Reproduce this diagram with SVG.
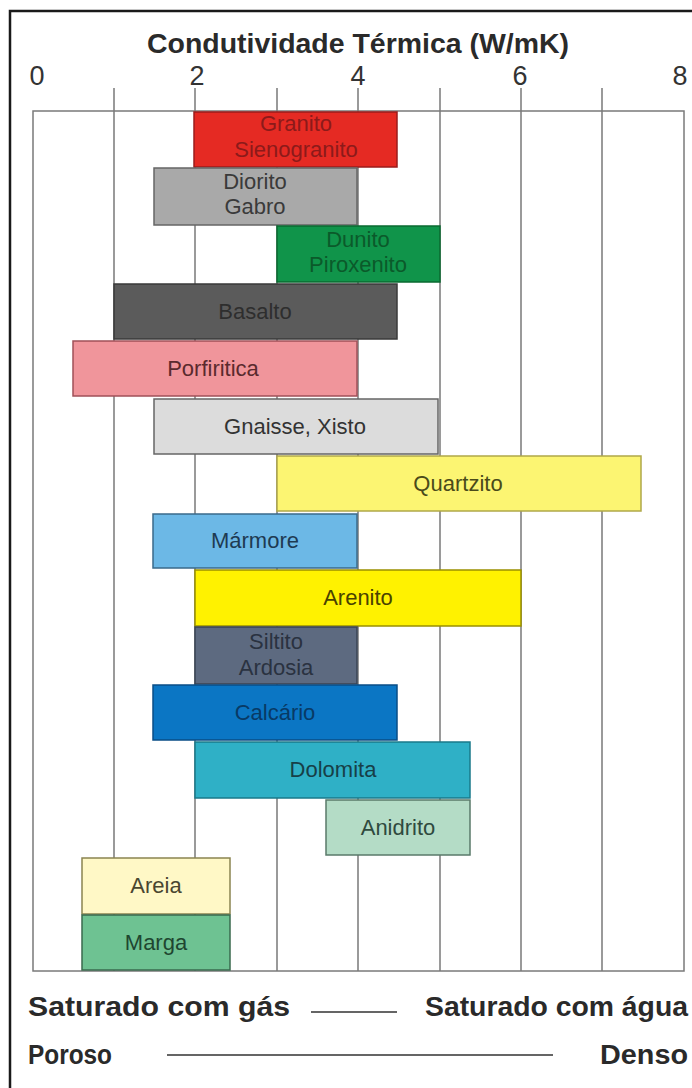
<svg xmlns="http://www.w3.org/2000/svg" width="692" height="1088" viewBox="0 0 692 1088">
<style>
.bar{stroke-width:1.5}
.lbl{font-family:"Liberation Sans",Arial,sans-serif;font-size:22px;text-anchor:middle}
.num{font-family:"Liberation Sans",Arial,sans-serif;font-size:27px;fill:#333;text-anchor:middle}
.bold{font-family:"Liberation Sans",Arial,sans-serif;font-weight:bold;font-size:27px;fill:#2a2a2a}
.grid{stroke:#7a7a7a;stroke-width:1.5;fill:none}
</style>
<rect width="692" height="1088" fill="#fff"/>
<path d="M10,1088 V11 H692" fill="none" stroke="#1a1a1a" stroke-width="2.5"/>
<text class="bold" x="358" y="53" text-anchor="middle" textLength="422" lengthAdjust="spacingAndGlyphs">Condutividade Térmica (W/mK)</text>
<g id="axis">
<text class="num" x="37" y="85">0</text>
<text class="num" x="197" y="85">2</text>
<text class="num" x="358" y="85">4</text>
<text class="num" x="520" y="85">6</text>
<text class="num" x="680" y="85">8</text>
</g>
<g id="grid" class="grid">
<rect x="33" y="111" width="651" height="860"/>
<path d="M114,88V971M195,88V971M277,88V971M358,88V971M440,88V971M521,88V971M602,88V971"/>
</g>
<g id="granito"><rect class="bar" x="194" y="112" width="203" height="55" fill="#e52a23" stroke="#9a1c1c"/><text class="lbl" x="296" y="131" fill="#8c1a1a">Granito</text><text class="lbl" x="296" y="157" fill="#8c1a1a">Sienogranito</text></g>
<g id="diorito"><rect class="bar" x="154" y="168" width="203" height="57" fill="#a9a9a9" stroke="#666"/><text class="lbl" x="255" y="189" fill="#3a3a3a">Diorito</text><text class="lbl" x="255" y="214" fill="#3a3a3a">Gabro</text></g>
<g id="dunito"><rect class="bar" x="277" y="226" width="163" height="56" fill="#10944a" stroke="#0a6a30"/><text class="lbl" x="358" y="247" fill="#0b5a2a">Dunito</text><text class="lbl" x="358" y="272" fill="#0b5a2a">Piroxenito</text></g>
<g id="basalto"><rect class="bar" x="114" y="284" width="283" height="55" fill="#5b5b5b" stroke="#3a3a3a"/><text class="lbl" x="255" y="319" fill="#2e2e2e">Basalto</text></g>
<g id="porfiritica"><rect class="bar" x="73" y="341" width="284" height="55" fill="#f0959b" stroke="#a05058"/><text class="lbl" x="213" y="376" fill="#5a2a2e">Porfiritica</text></g>
<g id="gnaisse"><rect class="bar" x="154" y="399" width="284" height="55" fill="#dcdcdc" stroke="#666"/><text class="lbl" x="295" y="434" fill="#333">Gnaisse, Xisto</text></g>
<g id="quartzito"><rect class="bar" x="277" y="456" width="364" height="55" fill="#fcf572" stroke="#b0a84a"/><text class="lbl" x="458" y="491" fill="#4a4a1a">Quartzito</text></g>
<g id="marmore"><rect class="bar" x="153" y="514" width="204" height="54" fill="#6cb8e6" stroke="#3a6a8a"/><text class="lbl" x="255" y="548" fill="#1e3a52">Mármore</text></g>
<g id="arenito"><rect class="bar" x="195" y="570" width="326" height="56" fill="#fff200" stroke="#9a9000"/><text class="lbl" x="358" y="605" fill="#4a4200">Arenito</text></g>
<g id="siltito"><rect class="bar" x="195" y="627" width="162" height="57" fill="#5d6a80" stroke="#3a4454"/><text class="lbl" x="276" y="649" fill="#2a3240">Siltito</text><text class="lbl" x="276" y="675" fill="#2a3240">Ardosia</text></g>
<g id="calcario"><rect class="bar" x="153" y="685" width="244" height="55" fill="#0b76c4" stroke="#0a4e86"/><text class="lbl" x="275" y="720" fill="#083a66">Calcário</text></g>
<g id="dolomita"><rect class="bar" x="195" y="742" width="275" height="56" fill="#2fb0c6" stroke="#1a7a8a"/><text class="lbl" x="333" y="777" fill="#173f48">Dolomita</text></g>
<g id="anidrito"><rect class="bar" x="326" y="800" width="144" height="55" fill="#b4dcc6" stroke="#5a7a6a"/><text class="lbl" x="398" y="835" fill="#2f4a3e">Anidrito</text></g>
<g id="areia"><rect class="bar" x="82" y="858" width="148" height="56" fill="#fff8c6" stroke="#8a8450"/><text class="lbl" x="156" y="893" fill="#4a4630">Areia</text></g>
<g id="marga"><rect class="bar" x="82" y="915" width="148" height="55" fill="#6ec292" stroke="#3a6a4e"/><text class="lbl" x="156" y="950" fill="#1e4630">Marga</text></g>
<g id="legend">
<text class="bold" x="28" y="1016" textLength="262" lengthAdjust="spacingAndGlyphs">Saturado com gás</text>
<text class="bold" x="425" y="1016" textLength="263" lengthAdjust="spacingAndGlyphs">Saturado com água</text>
<text class="bold" x="28" y="1064" textLength="84" lengthAdjust="spacingAndGlyphs">Poroso</text>
<text class="bold" x="600" y="1064" textLength="88" lengthAdjust="spacingAndGlyphs">Denso</text>
<path d="M311,1012H397M167,1055H553" stroke="#333" stroke-width="1.5"/>
</g>
</svg>
